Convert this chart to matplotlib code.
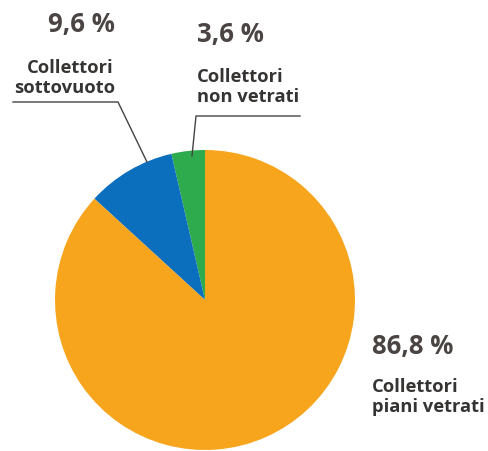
import matplotlib.pyplot as plt

# quote di mercato dei collettori solari
labels = ['Collettori\nnon vetrati', 'Collettori\nsottovuoto', 'Collettori\npiani vetrati']
shares = [3.6, 9.6, 86.8]
colors = ['#2eab4c', '#0b6fbe', '#f7a51d']

W, H = 489, 452
fig = plt.figure(figsize=(W / 100, H / 100), dpi=100)
ax = fig.add_axes([0, 0, 1, 1])

# y from the top edge, like the layout
def Y(y):
    return H - y

ax.pie(shares, colors=colors, startangle=90, counterclock=True,
       center=(205, Y(301)), radius=150,
       wedgeprops=dict(linewidth=0))
ax.set_xlim(0, W)
ax.set_ylim(0, H)
ax.set_aspect('equal')
ax.axis('off')

pct_kw = dict(fontfamily='Open Sans', fontweight='bold', fontsize=18.5, color='#4a4442', va='baseline')
lab_kw = dict(fontfamily='Open Sans', fontweight='bold', fontsize=13.2, color='#363433', va='baseline')

def fmt(v):
    return f'{v:.1f}'.replace('.', ',') + ' %'

# sottovuoto, allineato a destra
ax.text(115, Y(32), fmt(shares[1]), ha='right', **pct_kw)
l1, l2 = labels[1].split('\n')
ax.text(114, Y(73), l1, ha='right', **lab_kw)
ax.text(115, Y(93), l2, ha='right', **lab_kw)

# non vetrati
ax.text(197, Y(42), fmt(shares[0]), ha='left', **pct_kw)
l1, l2 = labels[0].split('\n')
ax.text(197, Y(82), l1, ha='left', **lab_kw)
ax.text(197, Y(102), l2, ha='left', **lab_kw)

# piani vetrati
ax.text(372, Y(354), fmt(shares[2]), ha='left', **pct_kw)
l1, l2 = labels[2].split('\n')
ax.text(372, Y(392), l1, ha='left', **lab_kw)
ax.text(372, Y(412), l2, ha='left', **lab_kw)

# linee di richiamo
ax.plot([13, 118, 147], [Y(103), Y(103), Y(163)], color='#444444', lw=1)
ax.plot([300, 196, 192], [Y(117), Y(117), Y(157)], color='#444444', lw=1)

fig.savefig('out.png', dpi=100)
